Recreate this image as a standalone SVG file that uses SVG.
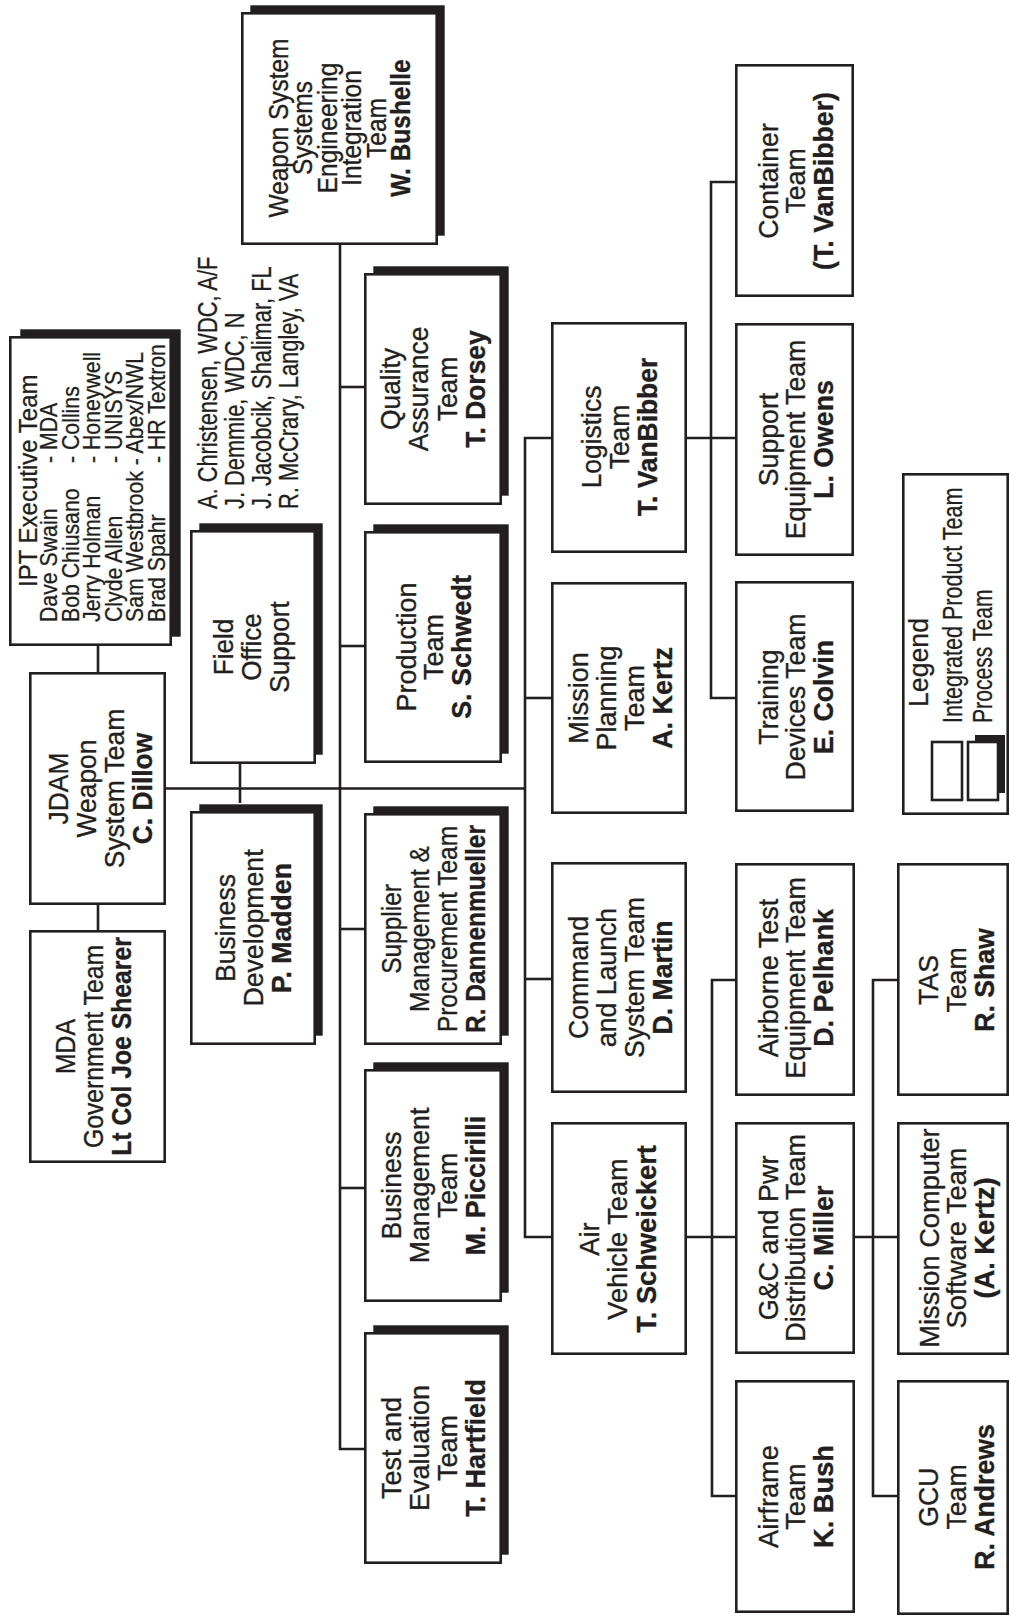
<svg xmlns="http://www.w3.org/2000/svg" width="1010" height="1617" viewBox="0 0 1010 1617">
<style>
.bx{fill:#fff;stroke:#231f20;stroke-width:2.6}
.sh{fill:#231f20}
.c{fill:none;stroke:#231f20;stroke-width:2.6}
.t{font-family:"Liberation Sans",Arial,Helvetica,sans-serif;font-size:27.5px;fill:#231f20;stroke:#231f20;stroke-width:0.35;text-anchor:middle}
.s{font-family:"Liberation Sans",Arial,Helvetica,sans-serif;fill:#231f20;stroke:#231f20;stroke-width:0.3;text-anchor:start}
.b{font-weight:bold}
</style>
<rect width="1010" height="1617" fill="#fff"/>
<g id="connectors" class="c">
<path d="M98,646V672"/>
<path d="M98,905V930"/>
<path d="M166,788.5H525"/>
<path d="M240,764V803"/>
<path d="M340,245V1449H364"/>
<path d="M340,387H364"/>
<path d="M340,646H364"/>
<path d="M340,929H364"/>
<path d="M340,1188H364"/>
<path d="M551,438H525V1237H551"/>
<path d="M525,698H551"/>
<path d="M525,979H551"/>
<path d="M687,438H735"/>
<path d="M735,182H711V698H735"/>
<path d="M687,1237H735"/>
<path d="M855,1237H897"/>
<path d="M735,980H712V1496H735"/>
<path d="M897,980H873V1496H897"/>
</g>
<g id="ipt-exec">
<rect class="sh" x="20.3" y="329.3" width="160.4" height="307.4"/>
<rect class="bx" x="10.3" y="337.3" width="160.4" height="307.4"/>
<text class="s" font-size="25" transform="translate(37,587) rotate(-90) scale(.96,1)">IPT Executive Team</text>
<text class="s" font-size="23" transform="translate(57,622) rotate(-90) scale(.925,1)">Dave Swain</text>
<text class="s" font-size="23" transform="translate(57,463) rotate(-90) scale(.925,1)">- MDA</text>
<text class="s" font-size="23" transform="translate(78.6,622) rotate(-90) scale(.925,1)">Bob Chiusano</text>
<text class="s" font-size="23" transform="translate(78.6,463) rotate(-90) scale(.925,1)">- Collins</text>
<text class="s" font-size="23" transform="translate(100.2,622) rotate(-90) scale(.925,1)">Jerry Holman</text>
<text class="s" font-size="23" transform="translate(100.2,463) rotate(-90) scale(.925,1)">- Honeywell</text>
<text class="s" font-size="23" transform="translate(121.8,622) rotate(-90) scale(.925,1)">Clyde Allen</text>
<text class="s" font-size="23" transform="translate(121.8,463) rotate(-90) scale(.925,1)">- UNISYS</text>
<text class="s" font-size="23" transform="translate(143.4,622) rotate(-90) scale(.925,1)">Sam Westbrook - Abex/NWL</text>
<text class="s" font-size="23" transform="translate(165,622) rotate(-90) scale(.925,1)">Brad Spahr</text>
<text class="s" font-size="23" transform="translate(165,463) rotate(-90) scale(.925,1)">- HR Textron</text>
</g>
<g id="jdam">
<rect class="bx" x="30.3" y="673.3" width="134.4" height="230.4"/>
<text class="t" transform="translate(68,788.5) rotate(-90) scale(.96,1)"><tspan x="0" y="0">JDAM</tspan><tspan x="0" dy="28">Weapon</tspan><tspan x="0" dy="28">System Team</tspan><tspan x="0" dy="28" class="b">C. Dillow</tspan></text>
</g>
<g id="mda">
<rect class="bx" x="30.3" y="931.3" width="134.4" height="230.4"/>
<text class="t" transform="translate(75,1046.5) rotate(-90) scale(.9,1)"><tspan x="0" y="0">MDA</tspan><tspan x="0" dy="28">Government Team</tspan><tspan x="0" dy="28" class="b">Lt Col Joe Shearer</tspan></text>
</g>
<g id="field-office">
<rect class="sh" x="199.3" y="523.3" width="123.4" height="231.4"/>
<rect class="bx" x="191.3" y="531.3" width="123.4" height="231.4"/>
<text class="t" transform="translate(233,647) rotate(-90) scale(.95,1)"><tspan x="0" y="0">Field</tspan><tspan x="0" dy="28">Office</tspan><tspan x="0" dy="28">Support</tspan></text>
</g>
<g id="business-development">
<rect class="sh" x="199.3" y="804.3" width="123.4" height="231.4"/>
<rect class="bx" x="191.3" y="812.3" width="123.4" height="231.4"/>
<text class="t" transform="translate(235,928) rotate(-90) scale(.97,1)"><tspan x="0" y="0">Business</tspan><tspan x="0" dy="28">Development</tspan><tspan x="0" dy="28" class="b">P. Madden</tspan></text>
</g>
<g id="locations">
<text class="s" font-size="28" transform="translate(217,509) rotate(-90) scale(.78,1)">A. Christensen, WDC, A/F</text>
<text class="s" font-size="28" transform="translate(244,509) rotate(-90) scale(.78,1)">J. Demmie, WDC, N</text>
<text class="s" font-size="28" transform="translate(271,509) rotate(-90) scale(.78,1)">J. Jacobcik, Shalimar, FL</text>
<text class="s" font-size="28" transform="translate(298,509) rotate(-90) scale(.78,1)">R. McCrary, Langley, VA</text>
</g>
<g id="ws-sei">
<rect class="sh" x="250.3" y="5.3" width="194.4" height="230.4"/>
<rect class="bx" x="242.3" y="13.3" width="194.4" height="230.4"/>
<text class="t" font-size="27" transform="translate(288,128) rotate(-90) scale(.89,1)"><tspan x="0" y="0">Weapon System</tspan><tspan x="0" dy="24.4">Systems</tspan><tspan x="0" dy="24.4">Engineering</tspan><tspan x="0" dy="24.4">Integration</tspan><tspan x="0" dy="24.4">Team</tspan><tspan x="0" dy="24.4" class="b">W. Bushelle</tspan></text>
</g>
<g id="quality-assurance">
<rect class="sh" x="373.3" y="266.3" width="135.4" height="229.4"/>
<rect class="bx" x="365.3" y="274.3" width="135.4" height="229.4"/>
<text class="t" transform="translate(400,389) rotate(-90) scale(.96,1)"><tspan x="0" y="0">Quality</tspan><tspan x="0" dy="28.3">Assurance</tspan><tspan x="0" dy="28.3">Team</tspan><tspan x="0" dy="28.3" class="b">T. Dorsey</tspan></text>
</g>
<g id="production">
<rect class="sh" x="373.3" y="524.3" width="135.4" height="229.4"/>
<rect class="bx" x="365.3" y="532.3" width="135.4" height="229.4"/>
<text class="t" transform="translate(416,647) rotate(-90) scale(.98,1)"><tspan x="0" y="0">Production</tspan><tspan x="0" dy="27.5">Team</tspan><tspan x="0" dy="27.5" class="b">S. Schwedt</tspan></text>
</g>
<g id="supplier-management">
<rect class="sh" x="373.3" y="806.3" width="135.4" height="229.4"/>
<rect class="bx" x="365.3" y="814.3" width="135.4" height="229.4"/>
<text class="t" transform="translate(401,929) rotate(-90) scale(.89,1)"><tspan x="0" y="0">Supplier</tspan><tspan x="0" dy="28">Management &amp;</tspan><tspan x="0" dy="28">Procurement Team</tspan><tspan x="0" dy="28" class="b">R. Dannenmueller</tspan></text>
</g>
<g id="business-management">
<rect class="sh" x="373.3" y="1062.3" width="135.4" height="230.4"/>
<rect class="bx" x="365.3" y="1070.3" width="135.4" height="230.4"/>
<text class="t" transform="translate(401,1185.5) rotate(-90) scale(.97,1)"><tspan x="0" y="0">Business</tspan><tspan x="0" dy="28">Management</tspan><tspan x="0" dy="28">Team</tspan><tspan x="0" dy="28" class="b">M. Piccirilli</tspan></text>
</g>
<g id="test-evaluation">
<rect class="sh" x="373.3" y="1325.3" width="135.4" height="229.4"/>
<rect class="bx" x="365.3" y="1333.3" width="135.4" height="229.4"/>
<text class="t" transform="translate(401,1448) rotate(-90) scale(.98,1)"><tspan x="0" y="0">Test and</tspan><tspan x="0" dy="28">Evaluation</tspan><tspan x="0" dy="28">Team</tspan><tspan x="0" dy="28" class="b">T. Hartfield</tspan></text>
</g>
<g id="logistics">
<rect class="bx" x="552.3" y="323.3" width="133.4" height="228.4"/>
<text class="t" transform="translate(601,437) rotate(-90) scale(.96,1)"><tspan x="0" y="0">Logistics</tspan><tspan x="0" dy="28">Team</tspan><tspan x="0" dy="28" class="b">T. VanBibber</tspan></text>
</g>
<g id="mission-planning">
<rect class="bx" x="552.3" y="583.3" width="133.4" height="229.4"/>
<text class="t" transform="translate(588,698) rotate(-90) scale(.98,1)"><tspan x="0" y="0">Mission</tspan><tspan x="0" dy="28">Planning</tspan><tspan x="0" dy="28">Team</tspan><tspan x="0" dy="28" class="b">A. Kertz</tspan></text>
</g>
<g id="command-launch">
<rect class="bx" x="552.3" y="863.3" width="133.4" height="228.4"/>
<text class="t" transform="translate(588,977.5) rotate(-90) scale(.97,1)"><tspan x="0" y="0">Command</tspan><tspan x="0" dy="28">and Launch</tspan><tspan x="0" dy="28">System Team</tspan><tspan x="0" dy="28" class="b">D. Martin</tspan></text>
</g>
<g id="air-vehicle">
<rect class="bx" x="552.3" y="1123.3" width="133.4" height="230.4"/>
<text class="t" transform="translate(599,1239) rotate(-90) scale(.99,1)"><tspan x="0" y="0">Air</tspan><tspan x="0" dy="28.5">Vehicle Team</tspan><tspan x="0" dy="28.5" class="b">T. Schweickert</tspan></text>
</g>
<g id="container">
<rect class="bx" x="736.3" y="65.3" width="116.4" height="230.4"/>
<text class="t" transform="translate(778,181) rotate(-90) scale(.97,1)"><tspan x="0" y="0">Container</tspan><tspan x="0" dy="27.5">Team</tspan><tspan x="0" dy="27.5" class="b">(T. VanBibber)</tspan></text>
</g>
<g id="support-equipment">
<rect class="bx" x="736.3" y="324.3" width="116.4" height="230.4"/>
<text class="t" transform="translate(778,439.5) rotate(-90) scale(.97,1)"><tspan x="0" y="0">Support</tspan><tspan x="0" dy="27.5">Equipment Team</tspan><tspan x="0" dy="27.5" class="b">L. Owens</tspan></text>
</g>
<g id="training-devices">
<rect class="bx" x="736.3" y="582.3" width="116.4" height="228.4"/>
<text class="t" transform="translate(778,697) rotate(-90) scale(.97,1)"><tspan x="0" y="0">Training</tspan><tspan x="0" dy="27.5">Devices Team</tspan><tspan x="0" dy="27.5" class="b">E. Colvin</tspan></text>
</g>
<g id="airborne-test">
<rect class="bx" x="736.3" y="864.3" width="117.4" height="230.4"/>
<text class="t" transform="translate(778,978) rotate(-90) scale(.98,1)"><tspan x="0" y="0">Airborne Test</tspan><tspan x="0" dy="27.5">Equipment Team</tspan><tspan x="0" dy="27.5" class="b">D. Pelhank</tspan></text>
</g>
<g id="gc-power">
<rect class="bx" x="736.3" y="1123.3" width="117.4" height="229.4"/>
<text class="t" transform="translate(778,1238) rotate(-90) scale(.98,1)"><tspan x="0" y="0">G&amp;C and Pwr</tspan><tspan x="0" dy="27.5">Distribution Team</tspan><tspan x="0" dy="27.5" class="b">C. Miller</tspan></text>
</g>
<g id="airframe">
<rect class="bx" x="736.3" y="1381.3" width="117.4" height="230.4"/>
<text class="t" transform="translate(778,1496.5) rotate(-90) scale(.99,1)"><tspan x="0" y="0">Airframe</tspan><tspan x="0" dy="27.5">Team</tspan><tspan x="0" dy="27.5" class="b">K. Bush</tspan></text>
</g>
<g id="tas">
<rect class="bx" x="898.3" y="864.3" width="109.4" height="230.4"/>
<text class="t" transform="translate(938,980) rotate(-90) scale(.97,1)"><tspan x="0" y="0">TAS</tspan><tspan x="0" dy="28">Team</tspan><tspan x="0" dy="28" class="b">R. Shaw</tspan></text>
</g>
<g id="mission-computer">
<rect class="bx" x="898.3" y="1123.3" width="109.4" height="230.4"/>
<text class="t" transform="translate(939,1238) rotate(-90) scale(.99,1)"><tspan x="0" y="0">Mission Computer</tspan><tspan x="0" dy="27.5">Software Team</tspan><tspan x="0" dy="27.5" class="b">(A. Kertz)</tspan></text>
</g>
<g id="gcu">
<rect class="bx" x="898.3" y="1381.3" width="109.4" height="232.4"/>
<text class="t" transform="translate(938,1497) rotate(-90) scale(.97,1)"><tspan x="0" y="0">GCU</tspan><tspan x="0" dy="28">Team</tspan><tspan x="0" dy="28" class="b">R. Andrews</tspan></text>
</g>
<g id="legend">
<rect class="bx" x="903.3" y="474.3" width="104.4" height="339.4"/>
<text class="s" font-size="27.5" transform="translate(928,707) rotate(-90) scale(.97,1)">Legend</text>
<text class="s" font-size="28" transform="translate(961.5,723) rotate(-90) scale(.77,1)">Integrated Product Team</text>
<text class="s" font-size="28" transform="translate(991.5,723) rotate(-90) scale(.755,1)">Process Team</text>
<rect class="bx" x="932" y="742" width="30" height="58" stroke-width="2"/>
<rect class="sh" x="975" y="735" width="30" height="58"/>
<rect class="bx" x="968" y="742" width="30" height="58" stroke-width="2"/>
</g>
</svg>
